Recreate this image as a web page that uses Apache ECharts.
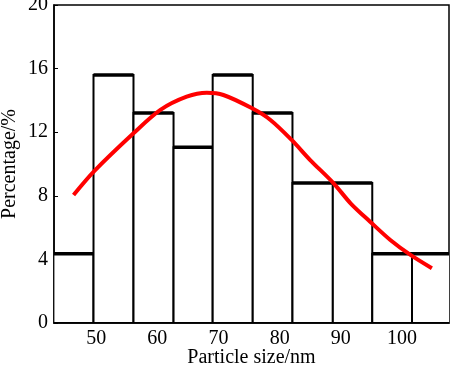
<!DOCTYPE html>
<html><head><meta charset="utf-8">
<script src="https://cdn.jsdelivr.net/npm/echarts@6/dist/echarts.min.js"></script>
<style>html,body{margin:0;padding:0;background:#fff}#c{width:450px;height:368px}</style>
</head><body><div id="c"></div>
<script>
var binEdges = [43.0, 49.56, 56.1, 62.65, 69.05, 75.6, 82.1, 88.7, 95.15, 101.65, 108.2];
var binValues = [4.35, 15.6, 13.2, 11.05, 15.6, 13.2, 8.8, 8.8, 4.35, 4.35];
var fitX = [46.3, 49.6, 56.1, 60.5, 64.8, 68.1, 70.8, 75.5, 78.5, 82.0, 85.0, 88.8, 91.6, 94.8, 98.1, 101.4, 104.9];
var fitY = [8.05, 9.52, 11.93, 13.4, 14.23, 14.48, 14.34, 13.5, 12.77, 11.5, 10.25, 8.8, 7.53, 6.37, 5.22, 4.28, 3.44];
var xTicks = [50, 60, 70, 80, 90, 100];

var barData = binValues.map(function (v, i) { return [binEdges[i], binEdges[i + 1], v]; });
var fitData = fitX.map(function (x, i) { return [x, fitY[i]]; });
var font = '"Liberation Serif", "Times New Roman", serif';

var chart = echarts.init(document.getElementById('c'));
chart.setOption({
  animation: false,
  grid: { left: 54, right: 1, top: 5, bottom: 45, show: true, borderColor: '#000', borderWidth: 1.5,
          containLabel: false, outerBoundsMode: 'none' },
  xAxis: {
    type: 'value', min: 43.1, max: 107.7,
    name: 'Particle size/nm', nameLocation: 'middle', nameGap: 25, nameMoveOverlap: false,
    nameTextStyle: { fontFamily: font, fontSize: 20, color: '#000' },
    axisLine: { show: true, lineStyle: { color: '#000', width: 1.5 } },
    axisTick: { show: true, inside: true, length: 4, customValues: xTicks, lineStyle: { color: '#000' } },
    axisLabel: { customValues: xTicks, fontFamily: font, fontSize: 20, color: '#000', margin: 6 },
    splitLine: { show: false }
  },
  yAxis: {
    type: 'value', min: 0, max: 20, interval: 4,
    name: 'Percentage/%', nameLocation: 'middle', nameGap: 34, nameMoveOverlap: false,
    nameTextStyle: { fontFamily: font, fontSize: 20, color: '#000' },
    axisLine: { show: true, lineStyle: { color: '#000', width: 1.5 } },
    axisTick: { show: true, inside: true, length: 4, lineStyle: { color: '#000' } },
    axisLabel: { fontFamily: font, fontSize: 20, color: '#000', margin: 6 },
    splitLine: { show: false }
  },
  series: [
    {
      type: 'custom', clip: true, data: barData,
      encode: { x: [0, 1], y: 2 },
      renderItem: function (params, api) {
        var p0 = api.coord([api.value(0), 0]);
        var p1 = api.coord([api.value(1), api.value(2)]);
        return {
          type: 'group',
          children: [
            { type: 'rect', shape: { x: p0[0], y: p1[1], width: p1[0] - p0[0], height: p0[1] - p1[1] },
              style: { fill: '#fff', stroke: '#000', lineWidth: 2 } },
            { type: 'line', shape: { x1: p0[0], y1: p1[1], x2: p1[0], y2: p1[1] },
              style: { stroke: '#000', lineWidth: 3.5 } }
          ]
        };
      }
    },
    {
      type: 'line', data: fitData, smooth: 0.3, symbol: 'none',
      lineStyle: { color: '#ff0000', width: 4 }, z: 5
    }
  ]
});
</script></body></html>
